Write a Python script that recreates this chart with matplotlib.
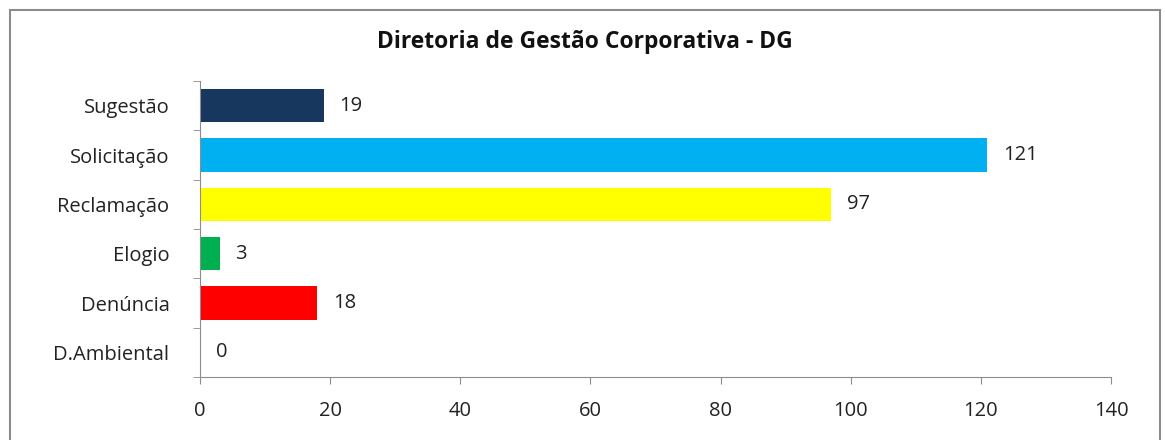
import numpy as np
import matplotlib.pyplot as plt
from matplotlib.patches import Rectangle

# chart data (top to bottom)
categories = ["Sugestão", "Solicitação", "Reclamação", "Elogio", "Denúncia", "D.Ambiental"]
values = [19, 121, 97, 3, 18, 0]
colors = ["#17375E", "#00B0F0", "#FFFF00", "#00B050", "#FF0000", "#FFFFFF"]
xticks = [0, 20, 40, 60, 80, 100, 120, 140]

plt.rcParams['font.family'] = ['Open Sans', 'DejaVu Sans']

fig = plt.figure(figsize=(11.65, 4.4), dpi=100)
ax = fig.add_axes([200 / 1165, 1 - 377 / 440, 911 / 1165, 296 / 440])

# outer chart border
fig.patches.append(Rectangle((10 / 1165, -0.1), 1150 / 1165, 1.1 - 10 / 440,
                             transform=fig.transFigure, fill=False,
                             edgecolor="#8c8c8c", linewidth=1.5))

y = np.arange(len(categories))
ax.barh(y, values, height=0.67, color=colors)
for yi, v in zip(y, values):
    ax.text(v + 2.4, yi, str(v), va="center", ha="left", fontsize=14.5, color="#222222")

ax.set_xlim(0, 140)
ax.set_ylim(len(categories) - 0.5, -0.5)
ax.set_xticks(xticks)
ax.set_yticks(y)
ax.set_yticklabels(categories)
ax.set_yticks(np.arange(-0.5, len(categories), 1), minor=True)
ax.tick_params(axis="y", which="major", length=0, pad=22, labelsize=14.5, labelcolor="#222222")
ax.tick_params(axis="y", which="minor", length=5, color="#8c8c8c")
ax.tick_params(axis="x", length=5, color="#8c8c8c", labelsize=14.5, labelcolor="#222222", pad=12)

for s in ["top", "right"]:
    ax.spines[s].set_visible(False)
for s in ["left", "bottom"]:
    ax.spines[s].set_color("#8c8c8c")

fig.text(585 / 1165, 1 - 42 / 440, "Diretoria de Gestão Corporativa - DG",
         ha="center", va="center", fontsize=16.5, fontweight="bold", color="#111111")

fig.savefig("out.png", dpi=100)
